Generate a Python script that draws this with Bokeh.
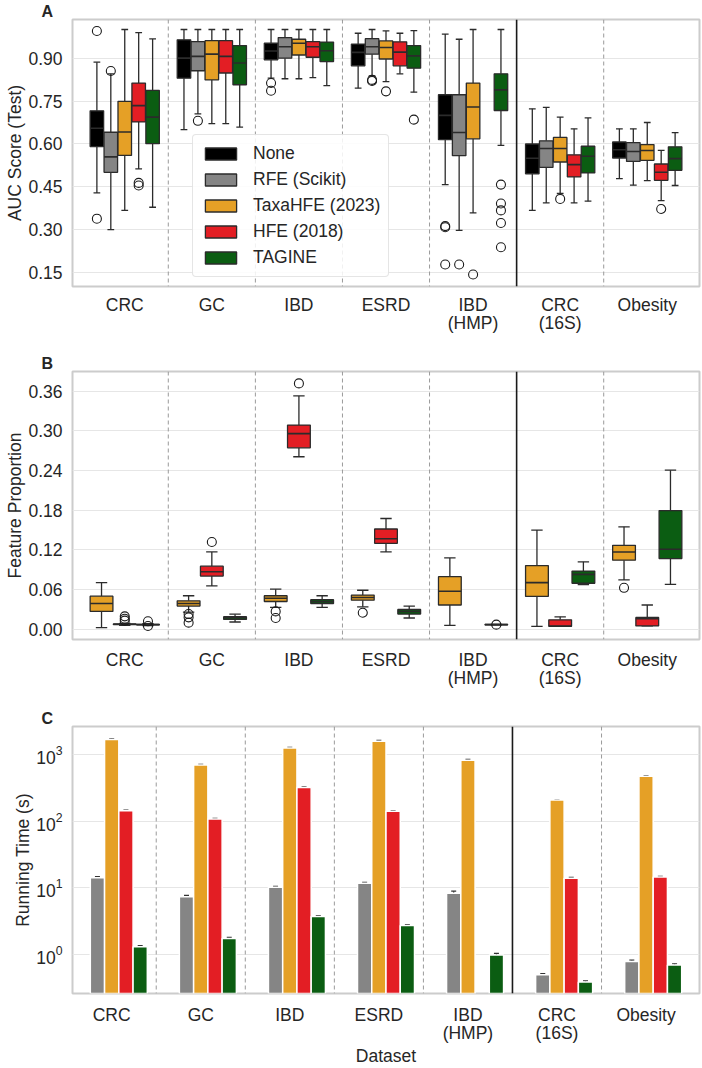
from bokeh.plotting import figure
from bokeh.layouts import column
from bokeh.models import (ColumnDataSource, Range1d, FixedTicker, Span, Legend,
                          LegendItem, Title, Whisker, TeeHead, NumeralTickFormatter)
from bokeh.embed import file_html
from bokeh.resources import INLINE

FONT = "Liberation Sans"
TXT = "#262626"
EDGE = "#2b2b2b"

datasets = ["CRC", "GC", "IBD", "ESRD", "IBD\n(HMP)", "CRC\n(16S)", "Obesity"]
methods = ["None", "RFE (Scikit)", "TaxaHFE (2023)", "HFE (2018)", "TAGINE"]
colors = ["#000000", "#858585", "#E5A026", "#E31E24", "#0B5D12"]

# ---------------- Panel A: AUC (whisker_lo, q1, median, q3, whisker_hi) ----------------
auc_none = [(0.429, 0.591, 0.655, 0.716, 0.886), (0.650, 0.830, 0.900, 0.964, 1.0),
            (0.830, 0.894, 0.925, 0.952, 1.0), (0.795, 0.873, 0.920, 0.949, 0.987),
            (0.458, 0.615, 0.700, 0.772, 0.984), (0.368, 0.496, 0.550, 0.600, 0.723),
            (0.479, 0.551, 0.580, 0.607, 0.653)]
auc_rfe = [(0.301, 0.501, 0.555, 0.641, 0.845), (0.705, 0.856, 0.906, 0.958, 1.0),
           (0.828, 0.900, 0.940, 0.972, 1.0), (0.838, 0.914, 0.940, 0.968, 1.0),
           (0.298, 0.559, 0.640, 0.772, 0.966), (0.394, 0.518, 0.584, 0.611, 0.728),
           (0.456, 0.539, 0.574, 0.605, 0.653)]
auc_taxahfe = [(0.368, 0.560, 0.642, 0.749, 1.0), (0.671, 0.824, 0.914, 0.961, 1.0),
               (0.828, 0.911, 0.952, 0.966, 1.0), (0.818, 0.897, 0.937, 0.960, 0.995),
               (0.359, 0.618, 0.729, 0.813, 1.0), (0.427, 0.537, 0.584, 0.623, 0.694),
               (0.472, 0.543, 0.577, 0.598, 0.675)]
auc_hfe = [(0.513, 0.677, 0.734, 0.813, 0.989), (0.671, 0.848, 0.906, 0.961, 1.0),
           (0.832, 0.903, 0.940, 0.958, 1.0), (0.845, 0.873, 0.921, 0.957, 0.987),
           None, (0.394, 0.485, 0.528, 0.562, 0.653),
           (0.402, 0.473, 0.501, 0.530, 0.578)]
auc_tagine = [(0.379, 0.601, 0.694, 0.787, 0.967), (0.659, 0.807, 0.883, 0.944, 1.0),
              (0.804, 0.888, 0.926, 0.956, 1.0), (0.781, 0.865, 0.908, 0.944, 0.996),
              (0.595, 0.717, 0.789, 0.845, 1.0), (0.400, 0.499, 0.557, 0.592, 0.691),
              (0.455, 0.508, 0.549, 0.590, 0.640)]
auc_out_none = [[0.995, 0.339], [], [0.813, 0.786], [], [0.309, 0.313, 0.179], [], []]
auc_out_rfe = [[0.855], [0.681], [], [0.824, 0.820], [0.179], [], []]
auc_out_taxahfe = [[], [], [], [0.784], [0.144], [0.408], []]
auc_out_hfe = [[0.464, 0.455], [], [], [], [], [], [0.373]]
auc_out_tagine = [[], [], [], [0.685], [0.458, 0.392, 0.368, 0.324, 0.239], [], []]

# ---------------- Panel B: feature proportion ----------------
fp_taxahfe = [(0.0024, 0.027, 0.039, 0.050, 0.0706), (0.026, 0.035, 0.039, 0.043, 0.0507),
              (0.033, 0.042, 0.047, 0.0507, 0.0606), (0.034, 0.044, 0.048, 0.0517, 0.059),
              (0.006, 0.0367, 0.0576, 0.0795, 0.108), (0.0045, 0.0497, 0.0706, 0.0964, 0.150),
              (0.0746, 0.1045, 0.117, 0.127, 0.155)]
fp_hfe = [(0.006, 0.007, 0.0075, 0.008, 0.009), (0.0656, 0.0805, 0.087, 0.0955, 0.117),
          (0.261, 0.2745, 0.296, 0.309, 0.353), (0.117, 0.130, 0.137, 0.1517, 0.1676),
          None, (0.0045, 0.0045, 0.005, 0.0143, 0.0188),
          (0.005, 0.005, 0.0158, 0.0179, 0.0367)]
fp_tagine = [(0.0055, 0.0065, 0.007, 0.0075, 0.0085), (0.011, 0.0149, 0.0173, 0.019, 0.0228),
             (0.033, 0.0388, 0.0418, 0.0448, 0.0507), (0.017, 0.023, 0.027, 0.030, 0.035),
             (0.0065, 0.0068, 0.007, 0.0072, 0.0075), (0.0676, 0.0696, 0.083, 0.088, 0.102),
             (0.068, 0.107, 0.121, 0.1795, 0.2407)]
fp_out_taxahfe = [[], [0.023, 0.018, 0.010], [0.027, 0.017], [0.025], [], [], [0.0627]]
fp_out_hfe = [[0.0195, 0.016, 0.013], [0.132], [0.372], [], [], [], []]
fp_out_tagine = [[0.012, 0.005], [], [], [], [0.007], [], []]

# ---------------- Panel C: running time (s) ----------------
rt_rfe = [14.2, 7.4, 10.2, 11.7, 8.33, 0.50, 0.79]
rt_taxahfe = [1660, 689, 1238, 1570, 816, 206, 469]
rt_hfe = [143, 107, 319, 140, None, 14.0, 14.5]
rt_tagine = [1.32, 1.75, 3.74, 2.73, 0.99, 0.39, 0.70]
rt_err_rfe = [0.5, 0.3, 0.35, 0.4, 0.6, 0.02, 0.04]
rt_err_taxahfe = [40, 15, 30, 35, 18, 4, 9]
rt_err_hfe = [3, 2.5, 6, 3, None, 0.4, 0.4]
rt_err_tagine = [0.05, 0.06, 0.12, 0.1, 0.06, 0.015, 0.03]

auc_ticks = [0.15, 0.30, 0.45, 0.60, 0.75, 0.90]
fp_ticks = [0.00, 0.06, 0.12, 0.18, 0.24, 0.30, 0.36]
rt_ticks = [1, 10, 100, 1000]


def make_fig(height, top, bottom, xr, yr, ylabel, letter, ticks, xstand,
             y_log=False, xlabel=None):
    p = figure(width=702, height=height, x_range=xr, y_range=yr,
               y_axis_type="log" if y_log else "linear",
               output_backend="svg", toolbar_location=None,
               min_border_left=72, min_border_right=3,
               min_border_top=top, min_border_bottom=bottom)
    p.background_fill_color = "white"
    p.border_fill_color = "white"
    p.outline_line_color = "#cccccc"
    p.outline_line_width = 2
    p.xgrid.grid_line_color = None
    p.ygrid.grid_line_color = "#e6e6e6"
    p.ygrid.grid_line_width = 1
    p.yaxis.ticker = FixedTicker(ticks=ticks)
    if not y_log:
        p.yaxis.formatter = NumeralTickFormatter(format="0.00")
    p.xaxis.ticker = FixedTicker(ticks=list(range(len(datasets))))
    p.xaxis.major_label_overrides = {i: d for i, d in enumerate(datasets)}
    for ax in (p.xaxis[0], p.yaxis[0]):
        ax.axis_line_color = None
        ax.major_tick_line_color = None
        ax.minor_tick_line_color = None
        ax.major_tick_out = 0
        ax.major_tick_in = 0
        ax.minor_tick_out = 0
        ax.minor_tick_in = 0
        ax.major_label_text_font = FONT
        ax.major_label_text_font_size = "17.5px"
        ax.major_label_text_color = TXT
        ax.major_label_text_line_height = 0.9
        ax.axis_label_text_font = FONT
        ax.axis_label_text_font_size = "17.5px"
        ax.axis_label_text_font_style = "normal"
        ax.axis_label_text_color = TXT
        ax.axis_label_text_line_height = 1.0
    p.yaxis.major_label_standoff = 10
    p.yaxis.axis_label_standoff = 0
    p.xaxis.major_label_standoff = xstand
    p.xaxis.axis_label_standoff = 0
    p.yaxis.axis_label = ylabel
    if xlabel:
        p.xaxis.axis_label = xlabel
    for i in range(len(datasets) - 1):
        solid = (i == 4)
        s = Span(location=i + 0.5, dimension="height",
                 line_color="#1a1a1a" if solid else "#9a9a9a",
                 line_width=1.6 if solid else 1,
                 line_dash="solid" if solid else "4 3")
        s.level = "underlay"
        p.add_layout(s)
    t = Title(text=letter, align="left", offset=-31, standoff=0,
              text_font=FONT, text_font_size="16px", text_font_style="bold",
              text_color=TXT)
    p.add_layout(t, "above")
    return p


def draw_boxes(p, stats, outl, xoff, w, color):
    idx = [i for i, s in enumerate(stats) if s is not None]
    xs = [i + xoff for i in idx]
    src = ColumnDataSource(dict(
        x=xs,
        lo=[stats[i][0] for i in idx], q1=[stats[i][1] for i in idx],
        med=[stats[i][2] for i in idx], q3=[stats[i][3] for i in idx],
        hi=[stats[i][4] for i in idx],
        cl=[x - w / 4 for x in xs], cr=[x + w / 4 for x in xs],
        bl=[x - w / 2 for x in xs], br=[x + w / 2 for x in xs]))
    kw = dict(source=src, line_color=EDGE, line_width=1.3)
    p.segment(x0="x", y0="q3", x1="x", y1="hi", **kw)
    p.segment(x0="x", y0="lo", x1="x", y1="q1", **kw)
    p.segment(x0="cl", y0="hi", x1="cr", y1="hi", **kw)
    p.segment(x0="cl", y0="lo", x1="cr", y1="lo", **kw)
    r = p.vbar(x="x", width=w, bottom="q1", top="q3", fill_color=color, **kw)
    p.segment(x0="bl", y0="med", x1="br", y1="med", source=src, line_color=EDGE, line_width=1.6)
    ox, oy = [], []
    for i, vals in enumerate(outl):
        for v in vals:
            ox.append(i + xoff)
            oy.append(v)
    if ox:
        p.scatter(x=ox, y=oy, marker="circle", size=9, fill_alpha=0,
                  line_color="#1a1a1a", line_width=1.1)
    return r


# ---------- Panel A ----------
pA = make_fig(335, 15, 48, Range1d(-0.6, 6.6), Range1d(0.102, 1.035),
              "AUC Score (Test)", "A", auc_ticks, 8)
auc_stats = [auc_none, auc_rfe, auc_taxahfe, auc_hfe, auc_tagine]
auc_outs = [auc_out_none, auc_out_rfe, auc_out_taxahfe, auc_out_hfe, auc_out_tagine]
wA = 0.8 / len(methods)
items = []
for k, m in enumerate(methods):
    r = draw_boxes(pA, auc_stats[k], auc_outs[k], (k - 2) * wA, wA * 0.97, colors[k])
    items.append(LegendItem(label=m, renderers=[r]))
leg = Legend(items=items, location=(120, 9))
leg.label_text_font = FONT
leg.label_text_font_size = "17.5px"
leg.label_text_color = TXT
leg.glyph_width = 39
leg.glyph_height = 15
leg.label_standoff = 13
leg.spacing = 5
leg.padding = 8
leg.margin = 0
leg.border_line_color = "#cccccc"
leg.border_line_width = 1
leg.border_radius = 4
leg.background_fill_alpha = 0.85
pA.add_layout(leg)

# ---------- Panel B ----------
pB = make_fig(355, 36, 47, Range1d(-0.6, 6.6), Range1d(-0.0155, 0.39),
              "Feature Proportion", "B", fp_ticks, 10)
fp_stats = [fp_taxahfe, fp_hfe, fp_tagine]
fp_outs = [fp_out_taxahfe, fp_out_hfe, fp_out_tagine]
wB = 0.8 / 3
for k in range(3):
    draw_boxes(pB, fp_stats[k], fp_outs[k], (k - 1) * wB, wB * 0.98, colors[k + 2])

# ---------- Panel C ----------
pC = make_fig(378, 36, 70, Range1d(-0.44, 6.6), Range1d(0.263, 2600),
              "Running Time (s)", "C", rt_ticks, 11, y_log=True, xlabel="Dataset")
rt_vals = [None, rt_rfe, rt_taxahfe, rt_hfe, rt_tagine]
rt_errs = [None, rt_err_rfe, rt_err_taxahfe, rt_err_hfe, rt_err_tagine]
wC = 0.8 / len(methods)
for k in range(1, 5):
    idx = [i for i, v in enumerate(rt_vals[k]) if v is not None]
    xs = [i + (k - 2) * wC for i in idx]
    top = [rt_vals[k][i] for i in idx]
    err = [rt_errs[k][i] for i in idx]
    src = ColumnDataSource(dict(x=xs, top=top, bottom=[0.01] * len(idx),
                                up=[t + e for t, e in zip(top, err)],
                                lo=[t - e for t, e in zip(top, err)]))
    pC.vbar(x="x", width=wC, top="top", bottom="bottom", source=src,
            fill_color=colors[k], line_color="white", line_width=1.5)
    wh = Whisker(base="x", upper="up", lower="lo", source=src, line_color="#333333",
                 line_width=1.3,
                 upper_head=TeeHead(size=5, line_color="#333333", line_width=1.3),
                 lower_head=TeeHead(size=5, line_color="#333333", line_width=1.3))
    pC.add_layout(wh)

layout = column(pA, pB, pC)
open("out.html", "w").write(file_html(layout, INLINE))
